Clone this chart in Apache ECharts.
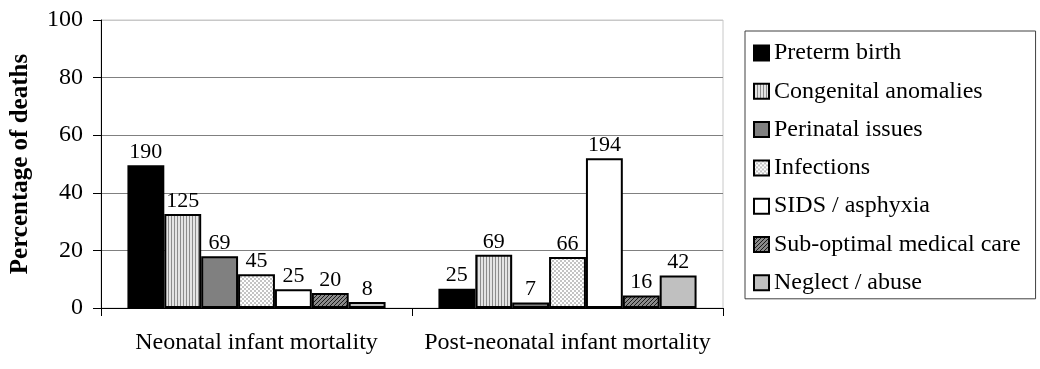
<!DOCTYPE html>
<html>
<head>
<meta charset="utf-8">
<script src="https://cdn.jsdelivr.net/npm/echarts@6/dist/echarts.min.js"></script>
<style>
  html, body { margin: 0; padding: 0; background: #fff; }
  #chart { width: 1040px; height: 369px; }
</style>
</head>
<body>
<div id="chart"></div>
<script>
// Age groups on the x axis
const categories = ['Neonatal infant mortality', 'Post-neonatal infant mortality'];

// Causes of death (one bar series each)
const causes = [
  'Preterm birth',
  'Congenital anomalies',
  'Perinatal issues',
  'Infections',
  'SIDS / asphyxia',
  'Sub-optimal medical care',
  'Neglect / abuse'
];

// Share of deaths (%) per cause, bar heights
const neonatalPct = [49.6, 32.6, 18.0, 11.7, 6.5, 5.2, 2.1];
const postNeonatalPct = [6.7, 18.5, 1.9, 17.7, 52.0, 4.3, 11.3];

// Number of deaths per cause, shown above each bar
const neonatalCounts = [190, 125, 69, 45, 25, 20, 8];
const postNeonatalCounts = [25, 69, 7, 66, 194, 16, 42];

// Y axis ticks
const yTicks = [0, 20, 40, 60, 80, 100];

// Fill patterns drawn on small tiles
function tile(w, h, draw) {
  const c = document.createElement('canvas');
  c.width = w; c.height = h;
  const ctx = c.getContext('2d');
  draw(ctx, w, h);
  return { image: c, repeat: 'repeat' };
}
const vStripes = tile(3, 3, (ctx) => {
  ctx.fillStyle = '#e4e4e4'; ctx.fillRect(0, 0, 3, 3);
  ctx.fillStyle = '#8c8c8c'; ctx.fillRect(0, 0, 1, 3);
});
const checks = tile(4, 4, (ctx) => {
  ctx.fillStyle = '#ffffff'; ctx.fillRect(0, 0, 4, 4);
  ctx.fillStyle = '#c4c4c4';
  ctx.fillRect(0, 0, 2, 2);
  ctx.fillRect(2, 2, 2, 2);
});
const hatch = tile(4, 4, (ctx) => {
  ctx.fillStyle = '#8a8a8a'; ctx.fillRect(0, 0, 4, 4);
  ctx.fillStyle = '#1a1a1a';
  for (let i = 0; i < 4; i++) ctx.fillRect(i, 3 - i, 1, 1);
});

const fills = ['#000000', vStripes, '#808080', checks, '#ffffff', hatch, '#c0c0c0'];

const FONT = '"Liberation Serif", "Times New Roman", serif';

const series = causes.map((name, i) => ({
  name: name,
  type: 'bar',
  data: [neonatalPct[i], postNeonatalPct[i]],
  barGap: '0%',
  barCategoryGap: '17%',
  itemStyle: { color: fills[i], borderColor: '#000', borderWidth: 2 },
  label: {
    show: true,
    position: 'top',
    distance: 2,
    color: '#000',
    fontFamily: FONT,
    fontSize: 22,
    formatter: (p) => String([neonatalCounts, postNeonatalCounts][p.dataIndex][i])
  }
}));

const chart = echarts.init(document.getElementById('chart'), null, { renderer: 'canvas' });
chart.setOption({
  animation: false,
  backgroundColor: '#ffffff',
  textStyle: { fontFamily: FONT },
  grid: {
    left: 100, right: 317, top: 20, bottom: 61,
    show: true, borderColor: '#c8c8c8', borderWidth: 1, backgroundColor: 'transparent'
  },
  legend: {
    orient: 'vertical',
    left: 745,
    top: 31,
    padding: [10, 15, 4, 8],
    itemGap: 14.3,
    itemWidth: 15,
    itemHeight: 15,
    icon: 'rect',
    borderColor: '#404040',
    borderWidth: 1,
    backgroundColor: '#fff',
    textStyle: { fontFamily: FONT, fontSize: 24, color: '#000', lineHeight: 24 },
    data: causes
  },
  xAxis: {
    type: 'category',
    data: categories,
    axisLine: { lineStyle: { color: '#000', width: 1 } },
    axisTick: { show: true, alignWithLabel: false, length: 8, lineStyle: { color: '#000' } },
    axisLabel: { color: '#000', fontFamily: FONT, fontSize: 24, margin: 23, interval: 0 },
    splitLine: { show: false }
  },
  yAxis: {
    type: 'value',
    min: yTicks[0],
    max: yTicks[yTicks.length - 1],
    interval: 20,
    name: 'Percentage of deaths',
    nameLocation: 'middle',
    nameGap: 68,
    nameTextStyle: { fontFamily: FONT, fontSize: 25, fontWeight: 'bold', color: '#000' },
    axisLine: { show: true, lineStyle: { color: '#000', width: 1 } },
    axisTick: { show: true, length: 8, lineStyle: { color: '#000' } },
    axisLabel: { color: '#000', fontFamily: FONT, fontSize: 24, margin: 18 },
    splitLine: {
      show: true,
      lineStyle: { color: ['#808080', '#808080', '#808080', '#808080', '#808080', '#c8c8c8'], width: 1 }
    }
  },
  series: series
});
</script>
</body>
</html>
